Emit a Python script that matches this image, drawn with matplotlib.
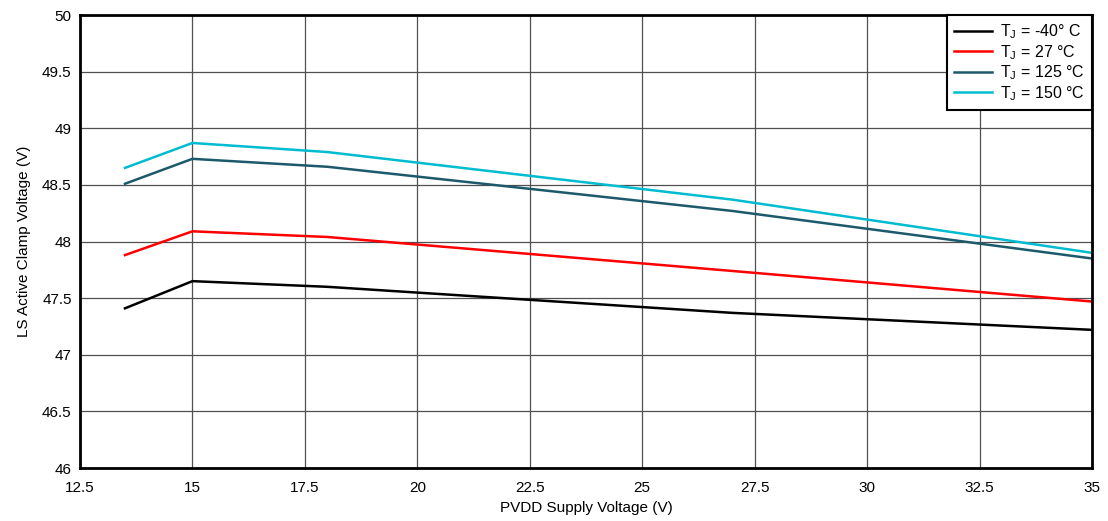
import numpy as np
import matplotlib
matplotlib.use("Agg")
import matplotlib.pyplot as plt

plt.rcParams['font.family'] = ['Liberation Sans', 'DejaVu Sans']
plt.rcParams['mathtext.fontset'] = 'custom'
plt.rcParams['mathtext.rm'] = 'Liberation Sans'

# supply voltage points (V)
pvdd = [13.5, 15, 18, 27, 35]
# clamp voltage per junction temperature (V)
v_m40 = [47.41, 47.65, 47.60, 47.37, 47.22]
v_27 = [47.88, 48.09, 48.04, 47.74, 47.47]
v_125 = [48.51, 48.73, 48.66, 48.27, 47.85]
v_150 = [48.65, 48.87, 48.79, 48.37, 47.90]

labels = [r'T$_\mathregular{J}$ = -40° C', r'T$_\mathregular{J}$ = 27 °C',
          r'T$_\mathregular{J}$ = 125 °C', r'T$_\mathregular{J}$ = 150 °C']
colors = ['#000000', '#ff0000', '#1c5a6b', '#00bcd0']

fig = plt.figure(figsize=(11.08, 5.21), dpi=100)
ax = fig.add_axes([0.0722, 0.1017, 0.9134, 0.8695])

for ys, lab, c in zip([v_m40, v_27, v_125, v_150], labels, colors):
    ax.plot(pvdd, ys, color=c, lw=1.8, label=lab)

ax.set_xlim(12.5, 35)
ax.set_ylim(46, 50)
ax.set_xticks(np.arange(12.5, 35.1, 2.5))
ax.set_yticks(np.arange(46, 50.1, 0.5))
ax.set_xticklabels(['12.5', '15', '17.5', '20', '22.5', '25', '27.5', '30', '32.5', '35'])
ax.set_yticklabels(['46', '46.5', '47', '47.5', '48', '48.5', '49', '49.5', '50'])
ax.tick_params(axis='x', length=0, labelsize=11, pad=9)
ax.tick_params(axis='y', length=0, labelsize=11, pad=6)
ax.grid(True, color='#505050', lw=0.9)
ax.set_axisbelow(True)
for s in ax.spines.values():
    s.set_linewidth(2)

ax.set_xlabel('PVDD Supply Voltage (V)', fontsize=11, labelpad=5)
ax.set_ylabel('LS Active Clamp Voltage (V)', fontsize=11, labelpad=8)

leg = ax.legend(loc='upper right', fontsize=11.5, fancybox=False, framealpha=1,
                edgecolor='black', borderaxespad=0, handlelength=2.4,
                handletextpad=0.5, labelspacing=0.12, borderpad=0.45)
leg.get_frame().set_linewidth(1.5)

fig.savefig('out.png', dpi=100)
